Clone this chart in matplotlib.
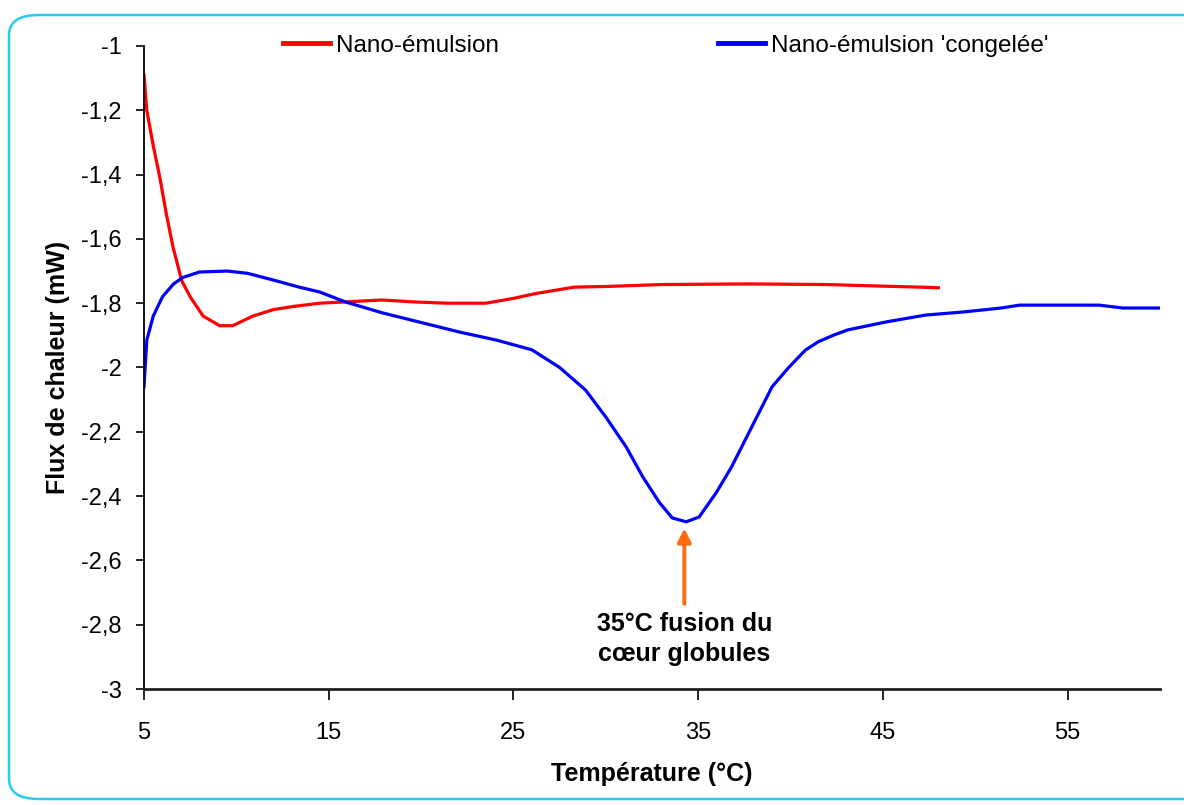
import matplotlib
matplotlib.use("Agg")
import matplotlib.pyplot as plt
from matplotlib.patches import FancyBboxPatch

plt.rcParams['font.family'] = ['Liberation Sans', 'DejaVu Sans']

# Data
temp_nano = [5.0, 5.15, 5.5, 5.86, 6.2, 6.57, 7.04, 7.5, 8.2, 9.1, 9.8, 10.9, 12.0, 13.1,
             14.5, 15.9, 17.9, 19.6, 21.4, 23.5, 25.0, 26.2, 28.3, 30.0, 33.0, 37.8,
             42.0, 45.0, 47.0, 48.0]
flux_nano = [-1.09, -1.20, -1.31, -1.41, -1.52, -1.625, -1.73, -1.78, -1.84, -1.87, -1.87,
             -1.84, -1.82, -1.81, -1.80, -1.796, -1.79, -1.796, -1.80, -1.80, -1.785, -1.77,
             -1.75, -1.748, -1.742, -1.74, -1.742, -1.747, -1.75, -1.752]

temp_cong = [5.0, 5.15, 5.5, 6.0, 6.6, 7.1, 8.0, 9.5, 10.6, 12.0, 13.4, 14.5, 15.9, 17.9,
             20.0, 22.1, 24.1, 26.0, 27.5, 28.9, 30.0, 31.1, 32.0, 32.9, 33.6, 34.35,
             35.05, 35.97, 36.8, 37.9, 39.0, 39.9, 40.8, 41.5, 42.3, 43.1, 45.2, 47.3, 49.4,
             51.4, 52.4, 56.7, 58.0, 60.0]
flux_cong = [-2.06, -1.915, -1.84, -1.78, -1.74, -1.72, -1.703, -1.70, -1.707, -1.728, -1.75,
             -1.765, -1.796, -1.83, -1.86, -1.89, -1.915, -1.945, -2.0, -2.07, -2.154, -2.247,
             -2.34, -2.42, -2.468, -2.48, -2.465, -2.39, -2.31, -2.185, -2.06, -2.0, -1.946,
             -1.92, -1.90, -1.883, -1.858, -1.837, -1.827, -1.815, -1.806, -1.806, -1.815,
             -1.815]

label_nano = "Nano-émulsion"
label_cong = "Nano-émulsion 'congelée'"

y_ticks = [-1.0, -1.2, -1.4, -1.6, -1.8, -2.0, -2.2, -2.4, -2.6, -2.8, -3.0]
y_ticklabels = ["-1", "-1,2", "-1,4", "-1,6", "-1,8", "-2", "-2,2", "-2,4", "-2,6", "-2,8", "-3"]
x_ticks = [5, 15, 25, 35, 45, 55]
x_ticklabels = ["5", "15", "25", "35", "45", "55"]

peak_T = 34.25
peak_flux = -2.50
arrow_tail = -2.735
annot_text = "35°C fusion du\ncœur globules"

W, H = 1184, 805
fig = plt.figure(figsize=(W / 100, H / 100), dpi=100)

# rounded border
border = FancyBboxPatch((9 / W, 6 / H), (W + 20) / W, (H - 21) / H,
                        boxstyle="round,pad=0,rounding_size=0.025",
                        transform=fig.transFigure, fill=False,
                        edgecolor='#22CCF2', linewidth=1.8, clip_on=False)
fig.patches.append(border)

ax = fig.add_axes([144 / W, (H - 689) / H, (1160 - 144) / W, (689 - 46) / H])

ax.plot(temp_nano, flux_nano, color='#FF0000', linewidth=2.3, label=label_nano,
        solid_joinstyle='round')
ax.plot(temp_cong, flux_cong, color='#0000FF', linewidth=2.3, label=label_cong,
        solid_joinstyle='round')

ax.set_xlim(5, 60)
ax.set_ylim(-3, -1)
ax.set_xticks(x_ticks)
ax.set_xticklabels(x_ticklabels)
ax.set_yticks(y_ticks)
ax.set_yticklabels(y_ticklabels)

for s in ['top', 'right']:
    ax.spines[s].set_visible(False)
ax.spines['left'].set_linewidth(1.3)
ax.spines['bottom'].set_linewidth(2.0)
ax.spines['bottom'].set_color('#222222')

ax.tick_params(axis='y', direction='out', length=6, width=1.2, pad=10, labelsize=17)
ax.tick_params(axis='x', direction='out', length=8, width=1.2, pad=16, labelsize=17)

ax.set_xlabel("Température (°C)", fontsize=18, fontweight='bold', labelpad=13)
ax.set_ylabel("Flux de chaleur (mW)", fontsize=18, fontweight='bold', labelpad=8)

ax.annotate("", xy=(peak_T, peak_flux), xytext=(peak_T, arrow_tail),
            arrowprops=dict(arrowstyle='-|>', color='#FF6A10', lw=2.8,
                            mutation_scale=20, shrinkA=0, shrinkB=0))
ax.text(peak_T, -2.845, annot_text, ha='center', va='center', fontsize=18,
        fontweight='bold', linespacing=1.3)

leg = ax.legend(loc='center left', bbox_to_anchor=(283 / W, (H - 46) / H),
                bbox_transform=fig.transFigure, ncol=2, frameon=False,
                fontsize=17.5, handlelength=1.93, handletextpad=0.25,
                columnspacing=9.0, borderaxespad=0, borderpad=0)
for h in leg.get_lines():
    h.set_linewidth(3.5)

fig.savefig("out.png", dpi=100)
